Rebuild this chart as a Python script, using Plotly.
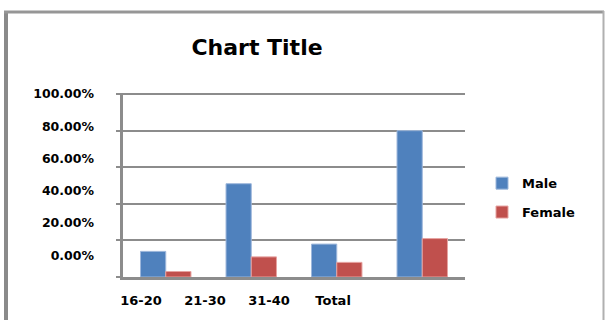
import plotly.graph_objects as go

categories = ["16-20", "21-30", "31-40", "Total"]
male = [0.14, 0.51, 0.18, 0.80]
female = [0.03, 0.11, 0.08, 0.21]
ytick_vals = [0.0, 0.2, 0.4, 0.6, 0.8, 1.0]
ytick_text = ["0.00%", "20.00%", "40.00%", "60.00%", "80.00%", "100.00%"]
xtick_vals = [0, 1, 2, 3]

GRID = "#8c8c8c"
FONT = "DejaVu Sans"

fig = go.Figure()
fig.add_trace(go.Bar(
    x=categories, y=male, name="Male", legendgroup="m",
    marker=dict(color="#4F81BD", line=dict(color="#9db7db", width=1)),
))
fig.add_trace(go.Bar(
    x=categories, y=female, name="Female", legendgroup="f",
    marker=dict(color="#C0504D", line=dict(color="#e6a3a1", width=1)),
))
# helper trace so the label axes are drawn
fig.add_trace(go.Scatter(x=[], y=[], xaxis="x2", yaxis="y2", showlegend=False,
                         hoverinfo="skip"))

L, R, T, B = 123, 140, 93, 41
W, H = 605, 320
pw, ph = W - L - R, H - T - B

def px(x):
    return (x - L) / pw

def py(y):
    return (H - B - y) / ph

shapes = [
    dict(type="line", xref="paper", yref="paper", x0=px(6), x1=px(6), y0=py(10), y1=py(330),
         line=dict(color="#8a8a8a", width=4)),
    dict(type="line", xref="paper", yref="paper", x0=px(4), x1=px(604), y0=py(11), y1=py(11),
         line=dict(color="#969696", width=3)),
    dict(type="line", xref="paper", yref="paper", x0=px(603.5), x1=px(603.5), y0=py(10), y1=py(330),
         line=dict(color="#b0b0b0", width=2)),
]

fig.update_layout(
    width=W, height=H,
    margin=dict(l=L, r=R, t=T, b=B),
    paper_bgcolor="white", plot_bgcolor="white",
    barmode="group", bargap=0.41, bargroupgap=0,
    shapes=shapes,
    title=dict(text="Chart Title", x=px(257), xref="paper", xanchor="center",
               y=1 - 47 / H, yanchor="middle",
               font=dict(family=FONT, size=22, color="black", weight="bold")),
    xaxis=dict(showticklabels=False, showline=True, linecolor=GRID, linewidth=3,
               ticks="", showgrid=False, zeroline=False),
    yaxis=dict(range=[0, 1.006], tickvals=ytick_vals, showticklabels=False, showgrid=True,
               gridcolor=GRID, gridwidth=2, showline=True, linecolor=GRID, linewidth=3,
               ticks="outside", ticklen=4, tickcolor=GRID, tickwidth=2, zeroline=False),
    xaxis2=dict(overlaying="x", anchor="y", side="bottom", range=[-0.28, 5.06],
                tickvals=xtick_vals, ticktext=categories, showgrid=False, showline=False,
                zeroline=False, ticks="", ticklabelstandoff=14,
                tickfont=dict(family=FONT, size=13, color="black", weight="bold")),
    yaxis2=dict(overlaying="y", anchor="x", side="left", range=[-0.135, 1.006],
                tickvals=ytick_vals, ticktext=ytick_text, showgrid=False, showline=False,
                zeroline=False, ticks="", ticklabelstandoff=28,
                tickfont=dict(family=FONT, size=12.5, color="black", weight="bold")),
    legend=dict(x=px(482), y=py(169), xanchor="left", yanchor="top",
                tracegroupgap=9, itemwidth=30, bgcolor="rgba(0,0,0,0)",
                font=dict(family=FONT, size=13, color="black", weight="bold")),
    showlegend=True,
)

fig.write_html("out.html")
